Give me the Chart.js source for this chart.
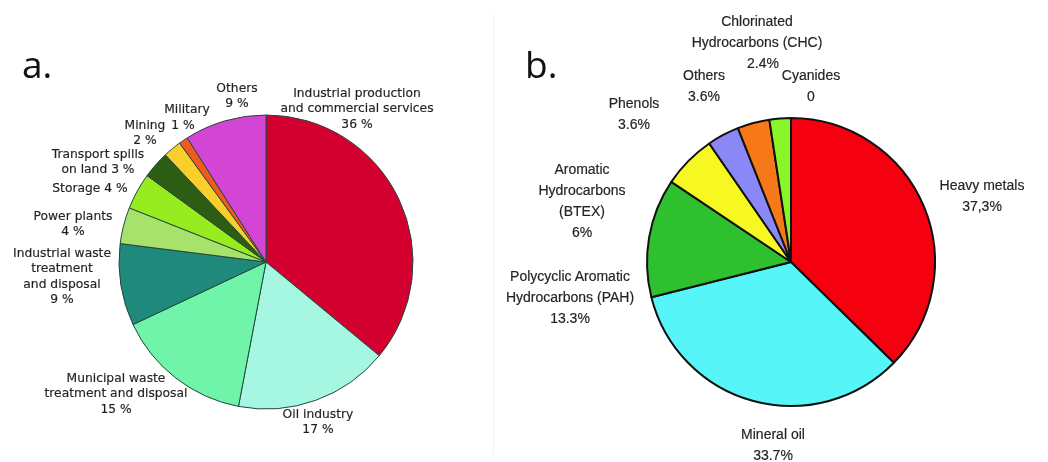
<!DOCTYPE html>
<html>
<head>
<meta charset="utf-8">
<script src="https://cdn.jsdelivr.net/npm/chart.js@4"></script>
<style>
    html, body { margin: 0; padding: 0; width: 1048px; height: 462px; overflow: hidden; background: #fff; }
    #page { position: relative; width: 1048px; height: 462px; }
    canvas { position: absolute; top: 0; }
    .panel { position: absolute; font-family: "Open Sans", sans-serif; font-size: 37px; color: #111; line-height: 1; }
    .lbl { position: absolute; transform: translateX(-50%); text-align: center; white-space: nowrap; }
    .lbl.a { font-family: "DejaVu Sans", Verdana, sans-serif; font-size: 12.3px; line-height: 15.3px; color: #1e1e1e; -webkit-text-stroke: 0.2px #333; }
    .lbl.b { font-family: "Liberation Sans", Arial, sans-serif; font-size: 14px; line-height: 21px; color: #222; -webkit-text-stroke: 0.2px #333; }
    .divider { position: absolute; left: 493px; top: 14px; width: 1px; height: 440px; background: #f0f0f0; }
</style>
</head>
<body>
<div id="page">
    <div class="divider"></div>
    <canvas id="pieA" width="532" height="524" style="left:0px"></canvas>
    <canvas id="pieB" width="514" height="524" style="left:534px"></canvas>
    <div class="panel" style="left:22px; top:45px">a.</div>
    <div class="panel" style="left:525px; top:45px">b.</div>
</div>
<script>
// a. sources of soil contamination (%)
const categoriesA = ['Industrial production and commercial services', 'Oil industry', 'Municipal waste treatment and disposal',
    'Industrial waste treatment and disposal', 'Power plants', 'Storage', 'Transport spills on land', 'Mining', 'Military', 'Others'];
const valuesA = [36, 17, 15, 9, 4, 4, 3, 2, 1, 9];
const colorsA = ['#d3002f', '#a6f7e1', '#6ff4aa', '#1f8a7b', '#a7e36a', '#97ec1f', '#2d5d12', '#fbcf2b', '#f05a1f', '#d345d5'];

// b. contaminants (%)
const categoriesB = ['Heavy metals', 'Mineral oil', 'Polycyclic Aromatic Hydrocarbons (PAH)', 'Aromatic Hydrocarbons (BTEX)',
    'Phenols', 'Others', 'Chlorinated Hydrocarbons (CHC)', 'Cyanides'];
const valuesB = [37.3, 33.7, 13.3, 6, 3.6, 3.6, 2.4, 0];
const colorsB = ['#f5000e', '#56f5f8', '#2fc02f', '#f7f722', '#8a88f6', '#f77818', '#8af62a', '#cccccc'];

// label layout: data index, centre x, top y, lines ({v} = value)
const layoutA = [
    { i: 0, x: 357, y: 86, lines: ['Industrial production', 'and commercial services', '{v} %'] },
    { i: 1, x: 318, y: 407, lines: ['Oil industry', '{v} %'] },
    { i: 2, x: 116, y: 371, lines: ['Municipal waste', 'treatment and disposal', '{v} %'] },
    { i: 3, x: 62, y: 246, lines: ['Industrial waste', 'treatment', 'and disposal', '{v} %'] },
    { i: 4, x: 73, y: 209, lines: ['Power plants', '{v} %'] },
    { i: 5, x: 90, y: 181, lines: ['Storage {v} %'] },
    { i: 6, x: 98, y: 147, lines: ['Transport spills', 'on land {v} %'] },
    { i: 7, x: 145, y: 118, lines: ['Mining', '{v} %'] },
    { i: 8, x: 187, y: 102, lines: ['Military'] },
    { i: 8, x: 183, y: 118, lines: ['{v} %'] },
    { i: 9, x: 237, y: 81, lines: ['Others', '{v} %'] }
];
const layoutB = [
    { i: 0, x: 982, y: 175, lines: ['Heavy metals', '{v}%'], comma: true },
    { i: 1, x: 773, y: 424, lines: ['Mineral oil', '{v}%'] },
    { i: 2, x: 570, y: 266, lines: ['Polycyclic Aromatic', 'Hydrocarbons (PAH)', '{v}%'] },
    { i: 3, x: 582, y: 159, lines: ['Aromatic', 'Hydrocarbons', '(BTEX)', '{v}%'] },
    { i: 4, x: 634, y: 93, lines: ['Phenols', '{v}%'] },
    { i: 5, x: 704, y: 65, lines: ['Others', '{v}%'] },
    { i: 6, x: 757, y: 11, lines: ['Chlorinated', 'Hydrocarbons (CHC)'] },
    { i: 6, x: 763, y: 53, lines: ['{v}%'] },
    { i: 7, x: 811, y: 65, lines: ['Cyanides', '{v}'] }
];

function makePie(id, values, labels, colors, border, borderWidth, radius) {
    return new Chart(document.getElementById(id), {
        type: 'pie',
        data: {
            labels: labels,
            datasets: [{
                data: values,
                backgroundColor: colors,
                borderColor: border,
                borderWidth: borderWidth,
                radius: radius
            }]
        },
        options: {
            responsive: false,
            animation: false,
            layout: { padding: 0 },
            plugins: {
                legend: { display: false },
                tooltip: { enabled: false }
            }
        }
    });
}

makePie('pieA', valuesA, categoriesA, colorsA, '#24473a', 1, 147);
makePie('pieB', valuesB, categoriesB, colorsB, '#111111', 2, 144);

function placeLabels(layout, values, cls) {
    const page = document.getElementById('page');
    layout.forEach(function (item) {
        let v = String(values[item.i]);
        if (item.comma) {
            v = v.replace('.', ',');
        }
        const div = document.createElement('div');
        div.className = 'lbl ' + cls;
        div.style.left = item.x + 'px';
        div.style.top = item.y + 'px';
        div.innerHTML = item.lines.map(function (l) { return l.replace('{v}', v); }).join('<br>');
        page.appendChild(div);
    });
}

placeLabels(layoutA, valuesA, 'a');
placeLabels(layoutB, valuesB, 'b');
</script>
</body>
</html>
